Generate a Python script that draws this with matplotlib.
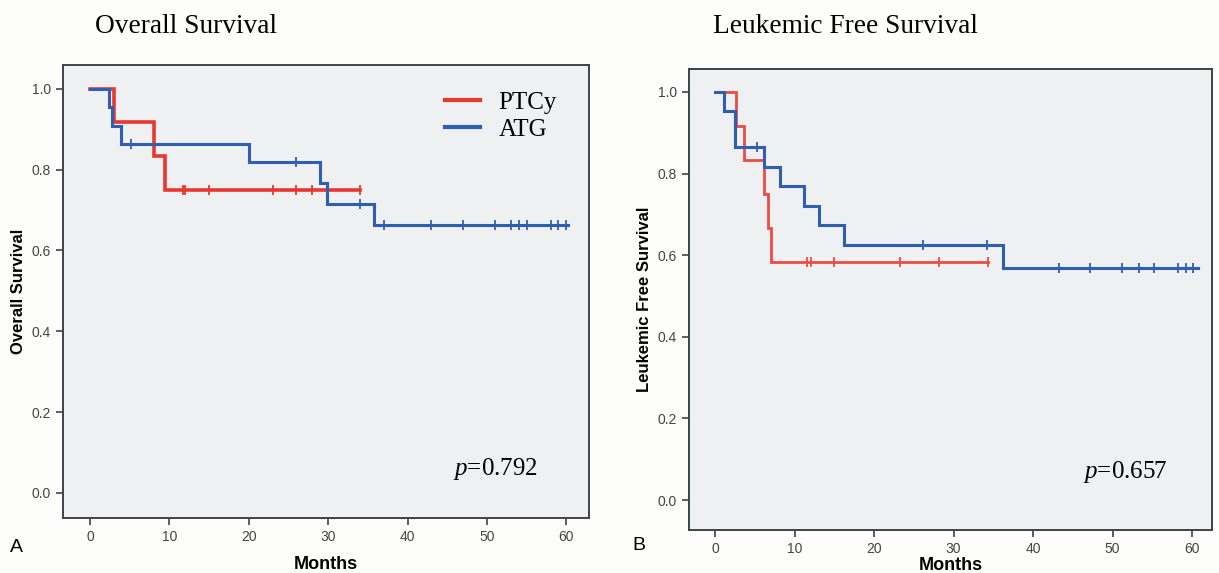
import numpy as np
import matplotlib
matplotlib.use("Agg")
import matplotlib.pyplot as plt

plt.rcParams['font.family'] = ['Liberation Sans', 'DejaVu Sans']
plt.rcParams['mathtext.fontset'] = 'custom'
plt.rcParams['mathtext.it'] = 'Liberation Serif:italic'
plt.rcParams['mathtext.rm'] = 'Liberation Serif'

# Overall survival (panel A)
os_ptcy_t = [0, 3, 8, 9.5]
os_ptcy_s = [1.0, 0.917, 0.833, 0.75]
os_ptcy_end = 34
os_ptcy_cens = [11.7, 12.0, 15, 23, 26, 28, 34]

os_atg_t = [0, 2.4, 2.8, 3.9, 20, 29, 29.8, 35.8]
os_atg_s = [1.0, 0.955, 0.909, 0.864, 0.818, 0.768, 0.716, 0.663]
os_atg_end = 60.2
os_atg_cens = [5.2, 26, 34, 37, 43, 47, 51, 53, 54, 55, 58, 59, 60]

# Leukemic free survival (panel B)
lfs_ptcy_t = [0, 2.65, 3.6, 6.1, 6.6, 7.0]
lfs_ptcy_s = [1.0, 0.917, 0.833, 0.75, 0.667, 0.583]
lfs_ptcy_end = 34.3
lfs_ptcy_cens = [11.6, 12.0, 15, 23.2, 28.1, 34.3]

lfs_atg_t = [0, 1.05, 2.5, 6.2, 8.1, 11.2, 13.05, 16.2, 36.2]
lfs_atg_s = [1.0, 0.954, 0.864, 0.815, 0.77, 0.721, 0.673, 0.625, 0.568]
lfs_atg_end = 60.8
lfs_atg_cens = [5.2, 26.2, 34.2, 43.2, 47.2, 51.2, 53.3, 55.2, 58.2, 59.2, 60.1]

RED = '#e8382e'
BLUE = '#2f5fb3'


def km(ax, t, s, end, cens, color, lw, label=None):
    tt = list(t) + [end]
    ss = list(s) + [s[-1]]
    ax.step(tt, ss, where='post', color=color, lw=lw, label=label,
            solid_joinstyle='miter')
    # survival at censor time = level of the step in effect
    cy = [ss[np.searchsorted(tt, c, side='right') - 1] for c in cens]
    ax.plot(cens, cy, ls='none', marker='|', ms=7, mew=1.3, color=color)


def style(ax, ylab, xlim, ylim, xpad):
    ax.set_facecolor('#eef0f2')
    ax.set_xlim(*xlim)
    ax.set_ylim(*ylim)
    ax.set_xticks(range(0, 61, 10))
    ax.set_yticks([0.0, 0.2, 0.4, 0.6, 0.8, 1.0])
    ax.set_yticklabels(['0.0', '0.2', '0.4', '0.6', '0.8', '1.0'])
    for sp in ax.spines.values():
        sp.set_color('#3c4448')
        sp.set_linewidth(1.4)
    ax.tick_params(direction='out', length=5, width=1.2, color='#3c4448',
                   labelsize=10, labelcolor='#444444')
    ax.set_ylabel(ylab, fontsize=12, fontweight='bold', labelpad=4)
    ax.set_xlabel('Months', fontsize=13, fontweight='bold', labelpad=xpad)


fig = plt.figure(figsize=(12.19, 5.73), dpi=100, facecolor='#fdfdfc')

axA = fig.add_axes([0.0517, 0.0960, 0.4315, 0.7906])
km(axA, os_ptcy_t, os_ptcy_s, os_ptcy_end, os_ptcy_cens, RED, 2.6, 'PTCy')
km(axA, os_atg_t, os_atg_s, os_atg_end, os_atg_cens, BLUE, 2.2, 'ATG')
style(axA, 'Overall Survival', (-3.4, 62.85), (-0.062, 1.059), 9)
leg = axA.legend(loc='upper left', bbox_to_anchor=(0.684, 0.992), frameon=False,
                 prop={'family': 'Liberation Serif', 'size': 18},
                 handlelength=1.4, labelspacing=0.2, handletextpad=0.72)
for h in leg.legend_handles:
    h.set_linewidth(3)
axA.text(0.741, 0.095, r'$p$=0.792', transform=axA.transAxes,
         fontsize=18, family='Liberation Serif')

axB = fig.add_axes([0.5652, 0.0750, 0.4290, 0.8045])
km(axB, lfs_ptcy_t, lfs_ptcy_s, lfs_ptcy_end, lfs_ptcy_cens, '#ee4a44', 2.0)
km(axB, lfs_atg_t, lfs_atg_s, lfs_atg_end, lfs_atg_cens, BLUE, 2.2)
style(axB, 'Leukemic Free Survival', (-3.3, 62.5), (-0.0735, 1.056), 1)
axB.text(0.753, 0.113, r'$p$=0.657', transform=axB.transAxes,
         fontsize=18, family='Liberation Serif')

fig.text(0.078, 0.942, 'Overall Survival', family='Liberation Serif', fontsize=19.7)
fig.text(0.585, 0.942, 'Leukemic Free Survival', family='Liberation Serif', fontsize=19.7)
fig.text(0.008, 0.037, 'A', fontsize=14)
fig.text(0.519, 0.041, 'B', fontsize=14)

fig.savefig('out.png', dpi=100, facecolor=fig.get_facecolor())
